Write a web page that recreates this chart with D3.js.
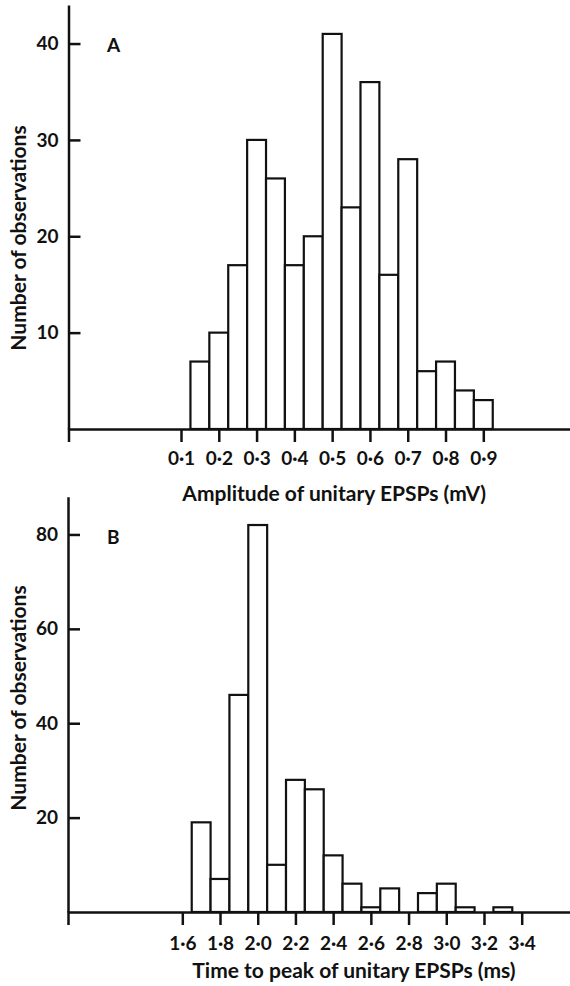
<!DOCTYPE html>
<html>
<head>
<meta charset="utf-8">
<script src="https://cdn.jsdelivr.net/npm/d3@7"></script>
<style>
  body { margin: 0; background: #fff; }
  svg { display: block; }
  text { font-family: Lato, "Open Sans", sans-serif; fill: #111; font-weight: 700; }
  .axis path, .axis line { stroke: #111; stroke-width: 2.5px; }
  .axis text { font-size: 19px; }
  .bar { fill: #fff; stroke: #111; stroke-width: 2.2px; }
  .axisLabel { font-size: 21px; }
  .panelLabel { font-size: 19px; }
</style>
</head>
<body>
<svg id="chart" width="570" height="986"></svg>
<script>
'use strict'

// panel A: amplitude bins (mV), bin centres and counts
const ampCenters = [0.15, 0.2, 0.25, 0.3, 0.35, 0.4, 0.45, 0.5, 0.55, 0.6, 0.65, 0.7, 0.75, 0.8, 0.85, 0.9]
const ampCounts  = [7, 10, 17, 30, 26, 17, 20, 41, 23, 36, 16, 28, 6, 7, 4, 3]
const ampTicks   = [0.1, 0.2, 0.3, 0.4, 0.5, 0.6, 0.7, 0.8, 0.9]
const ampCountTicks = [10, 20, 30, 40]

// panel B: time to peak bins (ms)
const timeCenters = [1.7, 1.8, 1.9, 2.0, 2.1, 2.2, 2.3, 2.4, 2.5, 2.6, 2.7, 2.8, 2.9, 3.0, 3.1, 3.2, 3.3]
const timeCounts  = [19, 7, 46, 82, 10, 28, 26, 12, 6, 1, 5, 0, 4, 6, 1, 0, 1]
const timeTicks   = [1.6, 1.8, 2.0, 2.2, 2.4, 2.6, 2.8, 3.0, 3.2, 3.4]
const timeCountTicks = [20, 40, 60, 80]

const svg = d3.select('#chart')
const fmt = d3.format('.1f')
const dotFmt = d => fmt(d).replace('.', '\u00b7') // old style decimal point

function drawPanel (p) {
  const g = svg.append('g')

  // x scale, ticks placed from the first to the last tick label
  const x = d3.scaleLinear()
    .domain([p.xTicks[0], p.xTicks[p.xTicks.length - 1]])
    .range(p.xRange)
  // axis line runs from the y axis to the right edge
  const xLine = d3.scaleLinear()
    .domain([x.invert(p.left), x.invert(575)])
    .range([p.left, 575])

  const y = d3.scaleLinear()
    .domain([0, p.yMax])
    .range([p.base, p.top])

  // bars (histogram bins)
  const data = p.centers.map((c, i) => ({c: c, n: p.counts[i]})).filter(d => d.n > 0)
  g.selectAll('rect.bar')
    .data(data)
    .enter().append('rect')
    .classed('bar', true)
    .attr('x', d => x(d.c - p.binWidth / 2))
    .attr('width', d => x(d.c + p.binWidth / 2) - x(d.c - p.binWidth / 2))
    .attr('y', d => y(d.n))
    .attr('height', d => y(0) - y(d.n))

  // x axis
  const xAxis = g.append('g')
    .classed('axis', true)
    .attr('transform', 'translate(0,' + p.base + ')')
    .call(d3.axisBottom(xLine).tickValues(p.xTicks).tickFormat(dotFmt).tickSizeOuter(0).tickSize(13).tickPadding(p.xPad))
  xAxis.selectAll('text').attr('fill', '#111')

  // y axis, ticks point inwards
  const yAxis = g.append('g')
    .classed('axis', true)
    .attr('transform', 'translate(' + p.left + ',0)')
    .call(d3.axisLeft(y).tickValues(p.yTicks).tickSizeInner(-12).tickSizeOuter(0).tickPadding(10))
  yAxis.selectAll('text').attr('fill', '#111')

  // axis labels
  g.append('text')
    .classed('axisLabel', true)
    .attr('x', (p.xRange[0] + p.xRange[1]) / 2 + 2)
    .attr('y', p.xLabelY)
    .attr('text-anchor', 'middle')
    .text(p.xLabel)
  g.append('text')
    .classed('axisLabel', true)
    .attr('transform', 'translate(26,' + p.yLabelY + ') rotate(-90)')
    .attr('text-anchor', 'middle')
    .text('Number of observations')

  // panel letter
  g.append('text')
    .classed('panelLabel', true)
    .attr('x', 107)
    .attr('y', p.letterY)
    .text(p.letter)
}

drawPanel({
  centers: ampCenters, counts: ampCounts, binWidth: 0.05,
  xTicks: ampTicks, yTicks: ampCountTicks,
  xRange: [181, 483.3], left: 68.5, base: 429, top: 5, yMax: 44,
  xPad: 10, xLabel: 'Amplitude of unitary EPSPs (mV)', xLabelY: 501,
  yLabelY: 238, letter: 'A', letterY: 52
})

drawPanel({
  centers: timeCenters, counts: timeCounts, binWidth: 0.1,
  xTicks: timeTicks, yTicks: timeCountTicks,
  xRange: [182.3, 521.7], left: 68, base: 912, top: 496.7, yMax: 88,
  xPad: 12, xLabel: 'Time to peak of unitary EPSPs (ms)', xLabelY: 978,
  yLabelY: 698, letter: 'B', letterY: 544
})
</script>
</body>
</html>
